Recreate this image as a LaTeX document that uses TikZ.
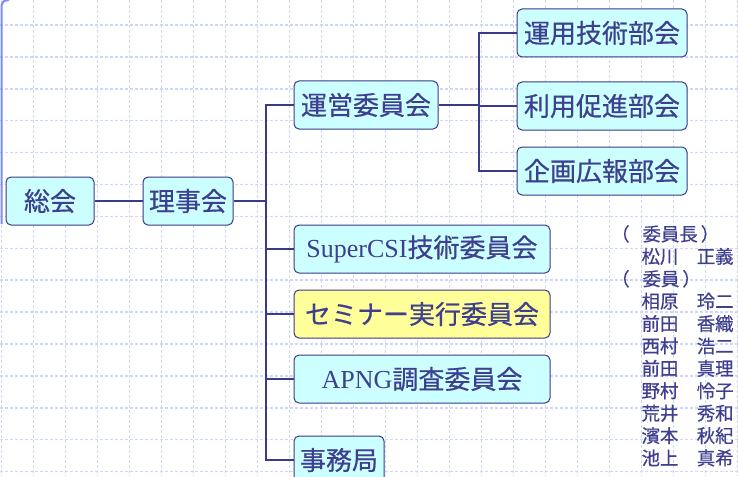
\documentclass[tikz,border=0pt]{standalone}
\usepackage{fontspec}
\setmainfont{Liberation Serif}
\newfontfamily\jp[FakeBold=0.6]{Noto Sans CJK JP}
\usepackage{tikz}
\usetikzlibrary{positioning}
\definecolor{boxfill}{HTML}{CCFFFF}
\definecolor{semifill}{HTML}{FFFF99}
\definecolor{ink}{HTML}{3F3F8F}
\definecolor{linecol}{HTML}{3A3A8A}
\definecolor{paperblue}{HTML}{CCD6FF}
\definecolor{rulecol}{HTML}{7B8CFF}

\begin{document}
\begin{tikzpicture}[x=1pt, y=-1pt, node distance=16pt,
  box/.style = {draw=linecol, line width=1pt, fill=boxfill, rounded corners=5pt, minimum height=48pt, inner xsep=6pt, text=ink, font=\jp\fontsize{26pt}{30pt}\selectfont},
  link/.style = {draw=linecol, line width=2pt},
  paper/.style = {paperblue, line width=1.5pt, dash pattern=on 3pt off 2pt},
  members/.style = {align=left, inner sep=0pt, text=ink, font=\jp\fontsize{18.4pt}{22.4pt}\selectfont}]
          \useasboundingbox (0,0) rectangle (738,476);
          \fill[white] (0,0) rectangle (738,476);
          % Background grid
          \foreach \gx in {0,...,23} \draw[paper] (1.3+32*\gx,0) -- (1.3+32*\gx,476);
          \foreach \gy in {0,...,14} \draw[paper] (0,25+31.9*\gy) -- (738,25+31.9*\gy);
          \draw[rulecol, line width=2pt] (1.5,224) -- (1.5,5) .. controls (1.5,2) and (4,0.5) .. (9,0);
          % Define nodes
          \node[box, minimum width=88pt] (sokai) at (50,201) {総会};
          \node[box, minimum width=88pt] (rijikai) [right=48pt of sokai] {理事会};
          \node[box, minimum width=144pt] (unei) at (366,105) {運営委員会};
          \node[box, minimum width=170pt] (unyo) at (602,33) {運用技術部会};
          \node[box, minimum width=170pt] (riyo) [below=24pt of unyo] {利用促進部会};
          \node[box, minimum width=170pt] (kikaku) [below=of riyo] {企画広報部会};
          \node[box, minimum width=256pt] (super) at (422,249) {{\rmfamily SuperCSI}技術委員会};
          \node[box, minimum width=256pt, fill=semifill] (seminar) [below=of super] {セミナー実行委員会};
          \node[box, minimum width=256pt] (apng) [below=of seminar] {{\rmfamily APNG}調査委員会};
          \node[box, minimum width=88pt] (jimu) [below=32pt of apng.south west, anchor=north west] {事務局};
          % committee members
          \node[members, anchor=north west] (meibo) at (623,225) {\hspace*{-12pt}（\hspace{13pt}委員長\hspace{3pt}）\\　松川　正義\\\hspace*{-12pt}（\hspace{13pt}委員\hspace{3pt}）\\　相原　玲二\\　前田　香織\\　西村　浩二\\　前田　真理\\　野村　怜子\\　荒井　秀和\\　濱本　秋紀\\　池上　真希};
          \coordinate (trunk) at ([xshift=32pt]rijikai.east);
          \coordinate (fork) at ([xshift=40pt]unei.east);
          % Add edges
          \draw[link] (sokai) -- (rijikai);
          \draw[link] (rijikai) -- (trunk) |- (unei);
          \draw[link] (trunk) |- (super);
          \draw[link] (trunk) |- (seminar);
          \draw[link] (trunk) |- (apng);
          \draw[link] (trunk) |- (jimu);
          \draw[link] (unei) -- (fork) |- (unyo);
          \draw[link] (fork) |- (riyo);
          \draw[link] (fork) |- (kikaku);
        \end{tikzpicture}
\end{document}
